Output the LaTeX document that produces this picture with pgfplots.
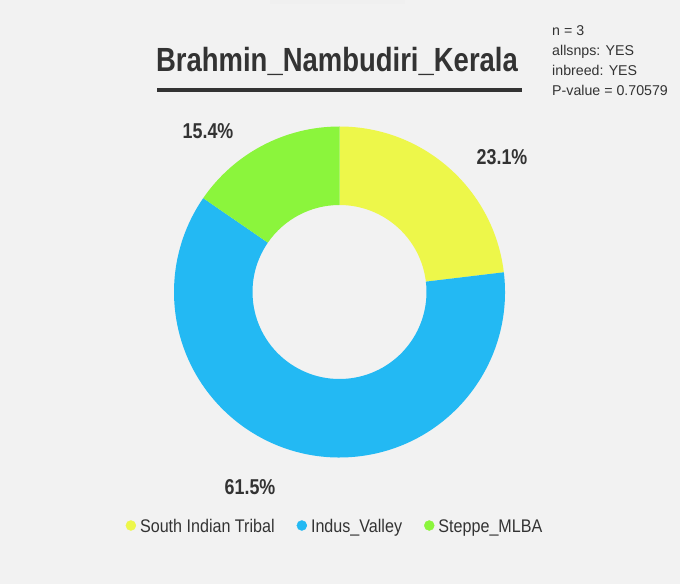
\documentclass[border=0pt]{standalone}
\usepackage{fontspec}
\usepackage{pgfplots}
\usepackage{pgfplotstable}
\pgfplotsset{compat=1.18}
\setmainfont{Liberation Sans}
\newfontfamily\titlefont[FakeStretch=0.82]{Liberation Sans}
\newfontfamily\legfont[FakeStretch=0.88]{Liberation Sans}
\newfontfamily\pctfont[FakeStretch=0.83]{Liberation Sans}
\definecolor{bg}{HTML}{F2F2F2}
\definecolor{txt}{HTML}{333333}
\definecolor{sityellow}{HTML}{EDF74A}
\definecolor{ivblue}{HTML}{23B9F3}
\definecolor{smgreen}{HTML}{8BF53C}

% shares (percent) of the three ancestry components
\pgfplotstableread{
share
23.1
61.5
15.4
}\donut

\pgfplotstablegetelem{0}{share}\of\donut \pgfmathsetmacro\sA{\pgfplotsretval}
\pgfplotstablegetelem{1}{share}\of\donut \pgfmathsetmacro\sB{\pgfplotsretval}
\pgfplotstablegetelem{2}{share}\of\donut \pgfmathsetmacro\sC{\pgfplotsretval}
\pgfmathsetmacro\aO{90}
\pgfmathsetmacro\aA{90-3.6*\sA}
\pgfmathsetmacro\aB{\aA-3.6*\sB}
\pgfmathsetmacro\aC{\aB-3.6*\sC}
\def\cx{339.5}
\def\cy{292}
\def\Ro{165.5}
\def\Ri{87}
\newcommand\slice[3]{%
  \fill[#3] (axis cs:{\cx+\Ro*cos(#1)},{\cy+\Ro*sin(#1)})
    arc[start angle=#1,end angle=#2,radius=\Ro pt]
    -- (axis cs:{\cx+\Ri*cos(#2)},{\cy+\Ri*sin(#2)})
    arc[start angle=#2,end angle=#1,radius=\Ri pt] -- cycle;}

\begin{document}
\begin{tikzpicture}
\fill[bg] (0,0) rectangle (680pt,584pt);
\begin{axis}[
  at={(0,0)}, anchor=origin,
  x=1pt, y=1pt, xmin=0, xmax=680, ymin=0, ymax=584,
  scale only axis, hide axis, disabledatascaling, clip=false,
  legend columns=3,
  legend style={at={(axis cs:335,57)}, anchor=center, draw=none, fill=none,
    font=\legfont\fontsize{18.3}{20}\selectfont, text=txt,
    /tikz/every even column/.append style={column sep=20pt},
    /tikz/every odd column/.append style={column sep=2pt}},
]
\fill[black!6] (270,584) rectangle (405,580);
\slice{\aO}{\aA}{sityellow}
\slice{\aA}{\aB}{ivblue}
\slice{\aB}{\aC}{smgreen}
\addlegendimage{legend image code/.code={\fill[sityellow] (5pt,1.5pt) circle (5pt);}}
\addlegendentry{South Indian Tribal}
\addlegendimage{legend image code/.code={\fill[ivblue] (5pt,1.5pt) circle (5pt);}}
\addlegendentry{Indus\_Valley}
\addlegendimage{legend image code/.code={\fill[smgreen] (5pt,1.5pt) circle (5pt);}}
\addlegendentry{Steppe\_MLBA}
% percentage labels
\node[font=\pctfont\bfseries\fontsize{21.5}{23}\selectfont, text=txt] at (axis cs:502,427) {23.1\%};
\node[font=\pctfont\bfseries\fontsize{21.5}{23}\selectfont, text=txt] at (axis cs:250,97) {61.5\%};
\node[font=\pctfont\bfseries\fontsize{21.5}{23}\selectfont, text=txt] at (axis cs:208,453) {15.4\%};
% title
\node[anchor=base, font=\titlefont\bfseries\fontsize{33.5}{36}\selectfont, text=txt, inner sep=0pt] at (axis cs:337,512) {Brahmin\_Nambudiri\_Kerala};
\draw[txt, line width=4pt] (axis cs:157,494) -- (axis cs:522,494);
% annotation
\node[anchor=base west, inner sep=0pt, font=\fontsize{14.2}{16}\selectfont, text=txt] at (axis cs:552,548.3) {n = 3};
\node[anchor=base west, inner sep=0pt, font=\fontsize{14.2}{16}\selectfont, text=txt] at (axis cs:552,528.3) {allsnps: YES};
\node[anchor=base west, inner sep=0pt, font=\fontsize{14.2}{16}\selectfont, text=txt] at (axis cs:552,508.3) {inbreed: YES};
\node[anchor=base west, inner sep=0pt, font=\fontsize{14.2}{16}\selectfont, text=txt] at (axis cs:552,488.3) {P-value = 0.70579};
\end{axis}
\end{tikzpicture}
\end{document}
